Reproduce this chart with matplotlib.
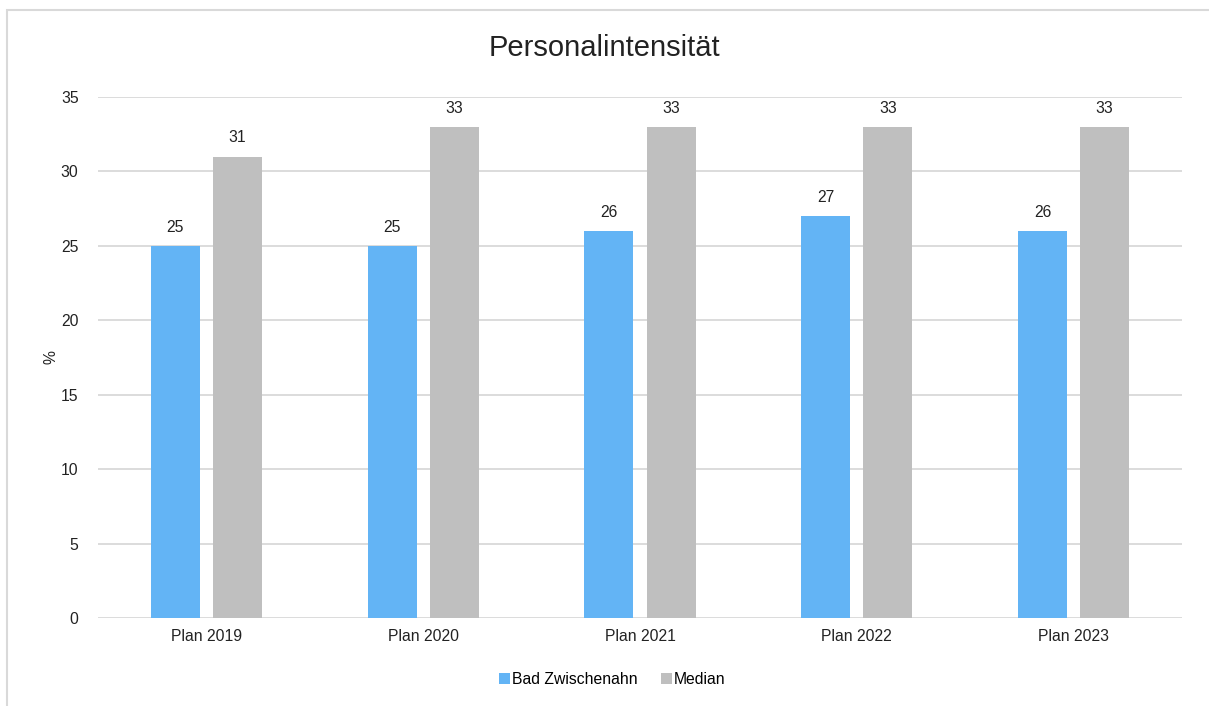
import numpy as np
import matplotlib.pyplot as plt
from matplotlib.patches import Rectangle

plt.rcParams['font.family'] = ['Liberation Sans', 'DejaVu Sans']

# chart data
categories = ["Plan 2019", "Plan 2020", "Plan 2021", "Plan 2022", "Plan 2023"]
bad_zwischenahn = [25, 25, 26, 27, 26]
median = [31, 33, 33, 33, 33]

blue = "#63b4f5"
grey = "#bfbfbf"
grid_col = "#d9d9d9"
fs = 11.3

fig = plt.figure(figsize=(12.09, 7.06), dpi=100)
ax = fig.add_axes([98 / 1209, 1 - 618 / 706, 1084 / 1209, 521 / 706])

# light frame round the chart area
fig.patches.append(Rectangle((7 / 1209, -0.1), 1.2, 1 - 10 / 706 + 0.1,
                             transform=fig.transFigure, fill=False,
                             edgecolor="#d9d9d9", linewidth=1.5))

x = np.arange(len(categories))
width = 0.226
offset = 0.143

b1 = ax.bar(x - offset, bad_zwischenahn, width, color=blue, label="Bad Zwischenahn", zorder=3)
b2 = ax.bar(x + offset, median, width, color=grey, label="Median", zorder=3)

for bars, vals in ((b1, bad_zwischenahn), (b2, median)):
    for bar, v in zip(bars, vals):
        ax.text(bar.get_x() + bar.get_width() / 2, v + 0.75, str(v),
                ha="center", va="bottom", fontsize=fs, color="#222222")

ax.set_xlim(-0.5, len(categories) - 0.5)
ax.set_ylim(0, 35)
ax.set_yticks(range(0, 36, 5))
ax.set_xticks(x)
ax.set_xticklabels(categories)
ax.tick_params(axis="both", length=0, labelsize=fs, colors="#222222")
ax.tick_params(axis="y", pad=14)
ax.tick_params(axis="x", pad=8)
ax.grid(axis="y", color=grid_col, linewidth=1.3, zorder=0)
for s in ax.spines.values():
    s.set_visible(False)

ax.set_ylabel("%", fontsize=fs, color="#222222")
ax.yaxis.set_label_coords(-40 / 1084, 0.5)
fig.text(0.5, 1 - 48 / 706, "Personalintensität", ha="center", va="center",
         fontsize=21, color="#222222")

fig.legend(handles=[b1, b2], loc="center", bbox_to_anchor=(612 / 1209, 1 - 679 / 706),
           ncol=2, frameon=False, fontsize=fs, handlelength=0.7, handleheight=0.7,
           handletextpad=0.1, columnspacing=1.5)

fig.savefig("out.png", dpi=100)
